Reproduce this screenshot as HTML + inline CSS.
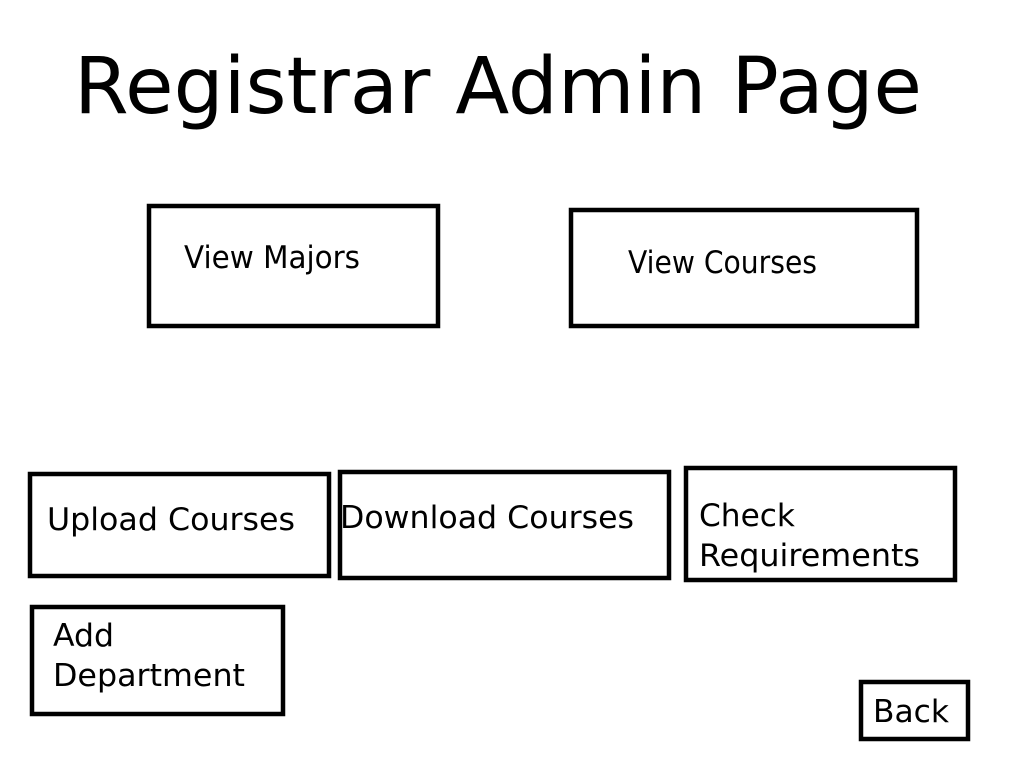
<!DOCTYPE html>
<html><head><meta charset="utf-8"><style>
html,body{margin:0;padding:0;background:#fff;width:1024px;height:768px;overflow:hidden}
svg text{font-family:"DejaVu Sans","Liberation Sans",sans-serif;fill:#000}
</style></head><body>
<svg width="1024" height="768" viewBox="0 0 1024 768" xmlns="http://www.w3.org/2000/svg">
<rect width="1024" height="768" fill="#fff"/>
<text x="74" y="113" font-size="78" textLength="848" lengthAdjust="spacingAndGlyphs">Registrar Admin Page</text>
<g fill="none" stroke="#000" stroke-width="4.5">
<rect x="149" y="206" width="289" height="120"/>
<rect x="571" y="210" width="346" height="116"/>
<rect x="30" y="474" width="299" height="102"/>
<rect x="340" y="472" width="329" height="106"/>
<rect x="686" y="468" width="269" height="112"/>
<rect x="32" y="607" width="251" height="107"/>
<rect x="861" y="682" width="107" height="57"/>
</g>
<g font-size="31">
<text x="184" y="268" textLength="176" lengthAdjust="spacingAndGlyphs">View Majors</text>
<text x="628" y="273" textLength="189" lengthAdjust="spacingAndGlyphs">View Courses</text>
<text x="47" y="530" textLength="248" lengthAdjust="spacingAndGlyphs">Upload Courses</text>
<text x="340" y="528" textLength="294" lengthAdjust="spacingAndGlyphs">Download Courses</text>
<text x="699" y="526" textLength="96" lengthAdjust="spacingAndGlyphs">Check</text>
<text x="699" y="566" textLength="221" lengthAdjust="spacingAndGlyphs">Requirements</text>
<text x="53" y="646" textLength="61" lengthAdjust="spacingAndGlyphs">Add</text>
<text x="53" y="686" textLength="192" lengthAdjust="spacingAndGlyphs">Department</text>
<text x="873" y="722" textLength="76" lengthAdjust="spacingAndGlyphs">Back</text>
</g>
</svg>
</body></html>
